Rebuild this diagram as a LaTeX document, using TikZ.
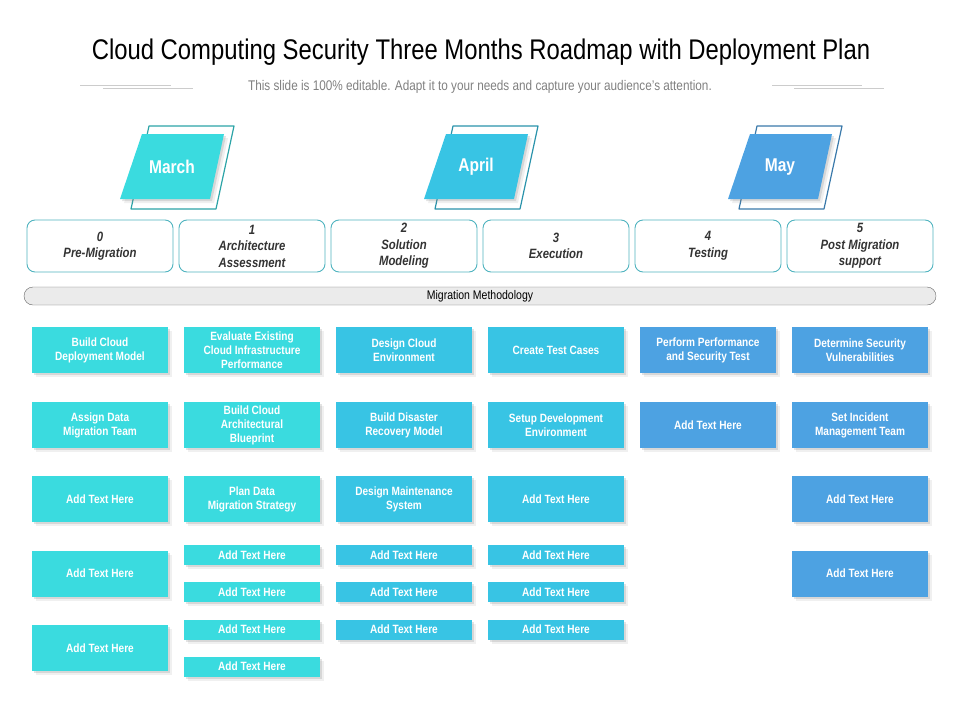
\documentclass[tikz,border=0pt]{standalone}
\usepackage{fontspec}
\setmainfont{Liberation Sans}[FakeStretch=0.84]
\usetikzlibrary{shadows,positioning}
\definecolor{cmar}{HTML}{3ADBDF}
\definecolor{capr}{HTML}{38C4E4}
\definecolor{cmay}{HTML}{4DA2E2}
\definecolor{edge}{HTML}{4FB3BF}
\tikzset{
  sh/.style={drop shadow={shadow xshift=2pt,shadow yshift=-2pt,opacity=.22},drop shadow={shadow xshift=4pt,shadow yshift=-4pt,opacity=.12}},
  task/.style={fill=#1,text=white,sh,minimum width=136pt,minimum height=46pt,align=center,inner sep=2pt,font=\bfseries\fontsize{12}{14}\selectfont},
  small/.style={task=#1,minimum height=20pt},
  phase/.style={draw=edge,line width=.9pt,rounded corners=8pt,minimum width=146pt,minimum height=52pt,align=center,text=black!80,font=\bfseries\itshape\fontsize{13.5}{16.5}\selectfont}
}
\begin{document}
\begin{tikzpicture}[x=1pt,y=-1pt,line join=round]
	\useasboundingbox(0,0)rectangle(960,720);
	\node(title)at(481,52){\fontsize{28.4}{32}\selectfont Cloud Computing Security Three Months Roadmap with Deployment Plan};
	\node[text=black!50](sub)at(480,87){\fontsize{14}{16}\selectfont This slide is 100\% editable. Adapt it to your needs and capture your audience's attention.};
	\draw[black!20](80,85)--(171,85)(103,88)--(193,88)(772,85)--(862,85)(794,88)--(884,88);
	\foreach \i/\m/\c in{0/March/cmar,1/April/capr,2/May/cmay}{
	\begin{scope}[shift={(\i*304,0)}]
	\draw[\c!75!black,line width=1.2pt,fill=white](149,126)--(234,126)--(216,209)--(131,209)--cycle;
	\path[fill=\c,sh](142,134)--(224,134)--(210,199)--(120,199)--cycle;
	\node[text=white](m\i)at(172,167){\bfseries\fontsize{18.5}{20}\selectfont\m};
	\end{scope}}
	\foreach \i/\t in{0/Pre-Migration,1/Architecture\\Assessment,2/Solution\\Modeling,3/Execution,4/Testing,5/Post Migration\\support}
	\node[phase](p\i)at(100+152*\i,246){\i\\\t};
	\node[draw=black!60,fill=black!8,rounded corners=9pt,minimum width=912pt,minimum height=18pt,inner sep=0pt](mm)at(480,296){\fontsize{12.5}{14}\selectfont Migration Methodology};
	\foreach \c/\r/\y/\t in{1/1/350/Build Cloud\\Deployment Model,1/2/425/Assign Data\\Migration Team,1/3/499/Add Text Here,1/4/573.5/Add Text Here,1/5/648/Add Text Here,
	2/1/350/Evaluate Existing\\Cloud Infrastructure\\Performance,2/2/425/Build Cloud\\Architectural\\Blueprint,2/3/499/Plan Data\\Migration Strategy}
	\node[task=cmar](b\c\r)at(100+152*\c-152,\y){\t};
	\foreach \c/\r/\y/\t in{3/1/350/Design Cloud\\Environment,3/2/425/Build Disaster\\Recovery Model,3/3/499/Design Maintenance\\System,
	4/1/350/Create Test Cases,4/2/425/Setup Development\\Environment,4/3/499/Add Text Here}
	\node[task=capr](b\c\r)at(100+152*\c-152,\y){\t};
	\foreach \c/\r/\y/\t in{5/1/350/Perform Performance\\and Security Test,5/2/425/Add Text Here,
	6/1/350/Determine Security\\Vulnerabilities,6/2/425/Set Incident\\Management Team,6/3/499/Add Text Here,6/4/573.5/Add Text Here}
	\node[task=cmay](b\c\r)at(100+152*\c-152,\y){\t};
	\foreach \r/\y in{4/555,5/592,6/629.5,7/666.5}
	\node[small=cmar](b2\r)at(252,\y){Add Text Here};
	\foreach \c/\k in{3/capr,4/capr}
	\foreach \r/\y in{4/555,5/592,6/629.5}
	\node[small=\k](b\c\r)at(100+152*\c-152,\y){Add Text Here};
\end{tikzpicture}
\end{document}
